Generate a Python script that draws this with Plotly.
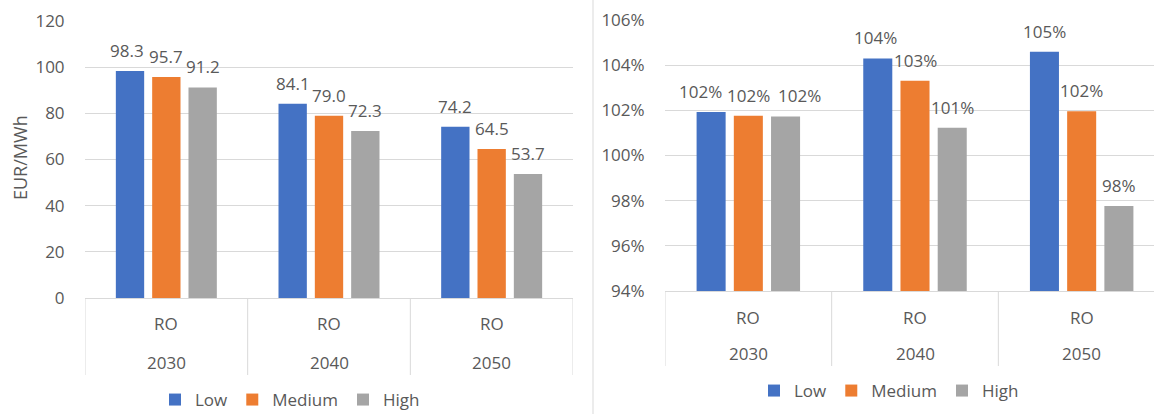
import plotly.graph_objects as go

# ---------------- data ----------------
years = ["2030", "2040", "2050"]
region = ["RO", "RO", "RO"]
series = ["Low", "Medium", "High"]
colors = ["#4472C4", "#ED7D31", "#A5A5A5"]

price_low = [98.3, 84.1, 74.2]
price_medium = [95.7, 79.0, 64.5]
price_high = [91.2, 72.3, 53.7]

ratio_low = [1.0193, 1.0430, 1.0459]
ratio_medium = [1.0176, 1.0331, 1.0196]
ratio_high = [1.0173, 1.0123, 0.9776]

left_ticks = [0, 20, 40, 60, 80, 100, 120]
right_ticks = [0.94, 0.96, 0.98, 1.00, 1.02, 1.04, 1.06]

# ---------------- layout constants ----------------
W, H = 1154, 414
FONT = "Open Sans"
TXT = "#595959"
GRID = "#D9D9D9"
FS = 17
BARGAP = 0.33
BARGROUPGAP = 0.22
SLOT = (1 - BARGAP) / 3.0

# label x-shifts (px) where labels were nudged apart to avoid overlap
left_label_shift = [[-3, 0, 0], [0, 0, 0], [0, 0, 0]]     # [series][category]
right_label_shift = [[-11, -2, 0], [0, 0, 0], [14, 0, 0]]


def px_x(v):
    return v / W


def px_y(v):
    return 1 - v / H


xpos = list(range(len(years)))

fig = go.Figure()

left_vals = [price_low, price_medium, price_high]
right_vals = [ratio_low, ratio_medium, ratio_high]

for name, col, vals in zip(series, colors, left_vals):
    fig.add_trace(go.Bar(
        x=xpos, y=vals, name=name, marker=dict(color=col, line=dict(width=0)),
        xaxis="x", yaxis="y", legend="legend", hoverinfo="skip",
    ))

for name, col, vals in zip(series, colors, right_vals):
    fig.add_trace(go.Bar(
        x=xpos, y=vals, name=name, marker=dict(color=col, line=dict(width=0)),
        xaxis="x2", yaxis="y2", legend="legend2", hoverinfo="skip",
    ))

# left plot area: x 85..573, y 21..298 ; right: x 665..1154 (clipped), y 20..291
left_x0, left_x1 = 85, 573
left_ytop, left_ybot = 21, 298
right_x0, right_x1 = 665, 1154
right_ytop, right_ybot = 20, 291
cat_w_right = (1165 - 665) / 3.0
right_range_max = -0.5 + (right_x1 - right_x0) / cat_w_right

axis_common = dict(showgrid=False, zeroline=False, showticklabels=False,
                   showline=True, linecolor=GRID, linewidth=1, ticks="")

yaxis_common = dict(showgrid=True, gridcolor=GRID, gridwidth=1, zeroline=False,
                    showline=False, ticks="outside", ticklen=16,
                    tickcolor="rgba(0,0,0,0)",
                    tickfont=dict(family=FONT, size=FS, color=TXT))

fig.update_layout(
    width=W, height=H,
    margin=dict(l=0, r=0, t=0, b=0, autoexpand=False),
    paper_bgcolor="white", plot_bgcolor="white",
    barmode="group", bargap=BARGAP, bargroupgap=BARGROUPGAP,
    font=dict(family=FONT, size=FS, color=TXT),
    xaxis=dict(domain=[px_x(left_x0), px_x(left_x1)], range=[-0.5, 2.5],
               anchor="y", **axis_common),
    yaxis=dict(domain=[px_y(left_ybot), px_y(left_ytop)], range=[0, 120],
               tickvals=left_ticks, ticktext=[str(t) for t in left_ticks],
               anchor="x", **yaxis_common),
    xaxis2=dict(domain=[px_x(right_x0), 1.0], range=[-0.5, right_range_max],
                anchor="y2", **axis_common),
    yaxis2=dict(domain=[px_y(right_ybot), px_y(right_ytop)], range=[0.94, 1.06],
                tickvals=right_ticks, tickformat=".0%",
                anchor="x2", **yaxis_common),
    legend=dict(orientation="h", x=px_x(290), y=px_y(400), xanchor="center",
                yanchor="middle", font=dict(family=FONT, size=FS, color=TXT),
                bgcolor="rgba(0,0,0,0)", traceorder="normal"),
    legend2=dict(orientation="h", x=px_x(889), y=px_y(391), xanchor="center",
                 yanchor="middle", font=dict(family=FONT, size=FS, color=TXT),
                 bgcolor="rgba(0,0,0,0)", traceorder="normal"),
    showlegend=True,
)

shapes = []
annotations = []

# data labels
for xr, yr_ref, vals_all, fmt, shifts in [("x", "y", left_vals, "{:.1f}", left_label_shift),
                                          ("x2", "y2", right_vals, "{:.0%}", right_label_shift)]:
    for k, vals in enumerate(vals_all):
        for i, v in enumerate(vals):
            annotations.append(dict(
                xref=xr, yref=yr_ref, x=i + (k - 1) * SLOT, y=v,
                text=fmt.format(v), showarrow=False, xanchor="center",
                yanchor="bottom", yshift=7, xshift=shifts[k][i],
                font=dict(family=FONT, size=FS, color=TXT)))

# category separators and labels
for xr, ybot, ysep, y_ro, y_yr in [("x", left_ybot, 375, 323, 362),
                                    ("x2", right_ybot, 366, 317, 353)]:
    for b in [-0.5, 0.5, 1.5, 2.5]:
        shapes.append(dict(type="line", xref=xr, yref="paper", x0=b, x1=b,
                           y0=px_y(ybot), y1=px_y(ysep),
                           line=dict(color=GRID, width=1)))
    for i, (yr, rg) in enumerate(zip(years, region)):
        annotations.append(dict(xref=xr, yref="paper", x=i, y=px_y(y_ro), text=rg,
                                showarrow=False, yanchor="middle",
                                font=dict(family=FONT, size=FS, color=TXT)))
        annotations.append(dict(xref=xr, yref="paper", x=i, y=px_y(y_yr), text=yr,
                                showarrow=False, yanchor="middle",
                                font=dict(family=FONT, size=FS, color=TXT)))

# divider between the two charts
shapes.append(dict(type="line", xref="paper", yref="paper", x0=px_x(593), x1=px_x(593),
                   y0=0, y1=1, line=dict(color=GRID, width=1)))

# y axis title
annotations.append(dict(xref="paper", yref="paper", x=px_x(20), y=px_y(158),
                        text="EUR/MWh", textangle=-90, showarrow=False,
                        xanchor="center", yanchor="middle",
                        font=dict(family=FONT, size=18, color=TXT)))

fig.update_layout(shapes=shapes, annotations=annotations)

fig.write_html("out.html")
